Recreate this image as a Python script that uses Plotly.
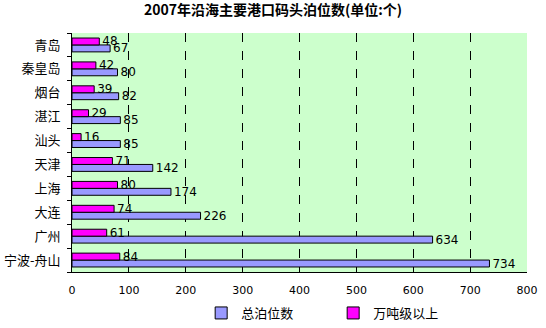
import plotly.graph_objects as go

# Ports listed top to bottom as they appear on the chart
ports = ["青岛", "秦皇岛", "烟台", "湛江", "汕头", "天津", "上海", "大连", "广州", "宁波-舟山"]
total_berths = [67, 80, 82, 85, 85, 142, 174, 226, 634, 734]
berths_10k_ton = [48, 42, 39, 29, 16, 71, 80, 74, 61, 84]

series_names = ["总泊位数", "万吨级以上"]
title_text = "2007年沿海主要港口码头泊位数(单位:个)"
x_ticks = [0, 100, 200, 300, 400, 500, 600, 700, 800]

label_font = dict(family="DejaVu Sans, Noto Sans CJK SC", size=12, color="black")

fig = go.Figure()
fig.add_trace(go.Bar(
    name=series_names[0], y=ports, x=total_berths, orientation="h",
    marker=dict(color="#9999FF", line=dict(color="black", width=1)),
    text=[str(v) for v in total_berths], textposition="outside",
    constraintext="none", textfont=label_font, cliponaxis=False,
))
fig.add_trace(go.Bar(
    name=series_names[1], y=ports, x=berths_10k_ton, orientation="h",
    marker=dict(color="#FF00FF", line=dict(color="black", width=1)),
    text=[str(v) for v in berths_10k_ton], textposition="outside",
    constraintext="none", textfont=label_font, cliponaxis=False,
))

fig.update_layout(
    width=546, height=328,
    margin=dict(l=72, r=19, t=33, b=56, autoexpand=False),
    paper_bgcolor="white",
    plot_bgcolor="#CCFFCC",
    barmode="group",
    bargap=0.42,
    bargroupgap=0,
    title=dict(text="<b>" + title_text + "</b>", x=0.5, xanchor="center",
               y=0.985, yanchor="top",
               font=dict(family="Noto Sans CJK SC", size=14, color="black")),
    font=dict(family="Noto Sans CJK SC", color="black"),
    showlegend=True,
    legend=dict(orientation="h", x=0.574, xanchor="center",
                yref="container", y=0.0, yanchor="bottom",
                font=dict(family="Noto Sans CJK SC", size=13, color="black"),
                itemwidth=30, entrywidth=87, entrywidthmode="pixels",
                traceorder="normal", tracegroupgap=0),
)

fig.update_xaxes(
    range=[0, 800], tickvals=x_ticks, ticktext=[str(v) for v in x_ticks],
    showgrid=True, gridcolor="black", griddash="dash", gridwidth=1,
    zeroline=False, showline=True, linecolor="black", linewidth=1,
    ticks="", tickfont=dict(family="DejaVu Sans", size=11, color="black"),
    ticklabelstandoff=8,
)
fig.update_yaxes(
    categoryorder="array", categoryarray=list(reversed(ports)),
    showgrid=False, zeroline=False,
    showline=True, linecolor="black", linewidth=1,
    ticks="outside", ticklen=4, tickcolor="black", tickson="boundaries",
    tickfont=dict(family="Noto Sans CJK SC", size=13, color="black"),
    ticklabelstandoff=8,
)

fig.write_html("out.html")
